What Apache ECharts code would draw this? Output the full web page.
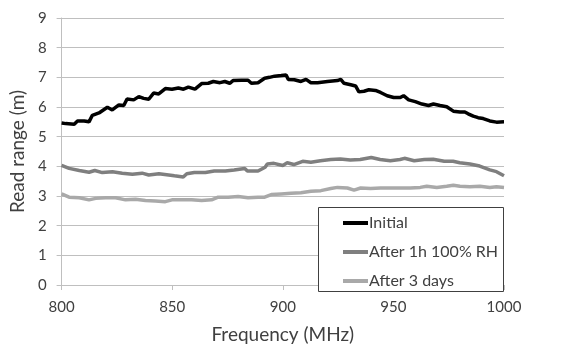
<!DOCTYPE html>
<html>
<head>
<meta charset="utf-8">
<script src="https://cdn.jsdelivr.net/npm/echarts@6/dist/echarts.min.js"></script>
<style>html,body{margin:0;padding:0;background:#fff}#c{width:562px;height:349px}</style>
</head>
<body>
<div id="c"></div>
<script>
var seriesNames = ['Initial', 'After 1h 100% RH', 'After 3 days'];
var xTicks = [800, 850, 900, 950, 1000];
var yTicks = [0, 1, 2, 3, 4, 5, 6, 7, 8, 9];

var initialFreq = [800, 801.9, 805.7, 807.2, 810.2, 812.4, 813.9, 816.9, 820.7, 822.9, 825.9, 828.1, 829.6, 832.6, 834.9, 837.1, 839.4, 841.6, 843.9, 846.9, 849.9, 852.8, 855.1, 857.3, 860.3, 863.3, 866.3, 868.6, 871.6, 873.8, 876.0, 877.5, 881.3, 884.3, 885.8, 888.8, 891.8, 894.0, 896.3, 899.3, 901.5, 902.5, 905.2, 908.2, 910.5, 912.7, 915.7, 920.2, 924.7, 926.2, 927.7, 930.7, 932.9, 934.4, 936.7, 938.9, 941.9, 944.2, 947.2, 950.1, 953.1, 954.6, 956.9, 959.9, 962.9, 965.9, 968.1, 971.1, 974.1, 977.1, 980.1, 982.3, 983.8, 986.1, 988.3, 990.6, 993.6, 996.6, 1000];
var initialVal = [5.46, 5.44, 5.42, 5.53, 5.53, 5.50, 5.72, 5.80, 5.99, 5.90, 6.07, 6.05, 6.27, 6.24, 6.35, 6.29, 6.26, 6.47, 6.44, 6.62, 6.60, 6.64, 6.60, 6.67, 6.60, 6.79, 6.80, 6.86, 6.82, 6.86, 6.80, 6.89, 6.90, 6.90, 6.80, 6.82, 6.97, 7.00, 7.04, 7.06, 7.08, 6.93, 6.92, 6.86, 6.93, 6.82, 6.82, 6.86, 6.89, 6.93, 6.80, 6.75, 6.71, 6.51, 6.53, 6.58, 6.56, 6.49, 6.38, 6.32, 6.32, 6.38, 6.24, 6.18, 6.10, 6.05, 6.10, 6.05, 6.01, 5.86, 5.83, 5.83, 5.77, 5.69, 5.64, 5.61, 5.53, 5.49, 5.50];

var humidFreq = [800, 803.4, 808, 812.4, 815, 818.4, 823, 827.4, 832, 836.4, 839.4, 844, 848.4, 851, 855, 856.6, 860, 865, 869, 874, 878, 882.8, 884, 888.8, 892, 893, 896, 900, 902, 905, 909, 912.7, 917, 921.7, 926, 930.5, 935, 940, 944, 948.6, 953, 955, 959.4, 964, 968, 973, 977, 980, 984.6, 989, 993.6, 996.6, 1000];
var humidVal = [4.03, 3.93, 3.86, 3.80, 3.86, 3.79, 3.82, 3.77, 3.73, 3.77, 3.71, 3.75, 3.71, 3.68, 3.64, 3.75, 3.79, 3.79, 3.84, 3.84, 3.88, 3.93, 3.84, 3.84, 3.97, 4.08, 4.10, 4.03, 4.12, 4.06, 4.17, 4.14, 4.19, 4.23, 4.25, 4.21, 4.23, 4.30, 4.23, 4.19, 4.23, 4.27, 4.19, 4.23, 4.24, 4.17, 4.17, 4.12, 4.08, 4.01, 3.88, 3.82, 3.68];

var daysFreq = [800, 803.4, 808, 812.4, 815.4, 819.9, 824.4, 828.9, 833.4, 837.9, 842.4, 846.9, 849.9, 854.4, 858.8, 863.3, 867.8, 870.8, 875.3, 879.8, 884.3, 888.8, 891.8, 894.8, 899.3, 903.7, 908.2, 912.7, 917.2, 921.7, 924.7, 929.2, 932.2, 935.2, 939.7, 944.2, 948.6, 953.1, 957.6, 962.1, 965.1, 969.6, 974.1, 977.1, 980.1, 984.6, 989.1, 993.6, 996.6, 1000];
var daysVal = [3.07, 2.96, 2.94, 2.87, 2.92, 2.94, 2.94, 2.87, 2.89, 2.85, 2.83, 2.81, 2.87, 2.87, 2.87, 2.85, 2.87, 2.96, 2.96, 2.98, 2.94, 2.96, 2.96, 3.05, 3.07, 3.09, 3.11, 3.16, 3.18, 3.25, 3.29, 3.27, 3.20, 3.27, 3.25, 3.27, 3.27, 3.27, 3.27, 3.29, 3.33, 3.29, 3.33, 3.36, 3.33, 3.31, 3.33, 3.29, 3.31, 3.29];

function pairs(xs, ys) { return xs.map(function (x, i) { return [x, ys[i]]; }); }

var FONT = 'Lato, "Open Sans", sans-serif';
var chart = echarts.init(document.getElementById('c'), null, { renderer: 'canvas' });
chart.setOption({
  animation: false,
  backgroundColor: '#ffffff',
  grid: { left: 59, right: 58, top: 18, bottom: 58, containLabel: false },
  xAxis: {
    type: 'value', min: xTicks[0], max: xTicks[xTicks.length - 1], interval: 50,
    name: 'Frequency (MHz)', nameLocation: 'middle', nameGap: 40,
    nameTextStyle: { fontFamily: FONT, fontSize: 19, color: '#404040' },
    axisLine: { show: true, lineStyle: { color: '#bfbfbf', width: 1 } },
    axisTick: { show: true, length: 5, lineStyle: { color: '#bfbfbf' } },
    axisLabel: { fontFamily: FONT, fontSize: 15, color: '#404040', margin: 15,
      formatter: function (v) { return String(v); } },
    splitLine: { show: false }
  },
  yAxis: {
    type: 'value', min: yTicks[0], max: yTicks[yTicks.length - 1], interval: 1,
    name: 'Read range (m)', nameLocation: 'middle', nameGap: 30,
    nameTextStyle: { fontFamily: FONT, fontSize: 19, color: '#404040' },
    axisLine: { show: true, lineStyle: { color: '#bfbfbf', width: 1 } },
    axisTick: { show: true, length: 5, lineStyle: { color: '#bfbfbf' } },
    axisLabel: { fontFamily: FONT, fontSize: 15, color: '#404040', margin: 15 },
    splitLine: { show: true, lineStyle: { color: '#bfbfbf', width: 1 } }
  },
  graphic: [{
    type: 'rect', left: 318, top: 207, z: 100,
    shape: { width: 185, height: 84 },
    style: { fill: '#ffffff', stroke: '#404040', lineWidth: 1 }
  }],
  legend: {
    z: 200,
    orient: 'vertical', left: 338, top: 210,
    itemWidth: 25, itemHeight: 4, itemGap: 13,
    icon: 'rect',
    textStyle: { fontFamily: FONT, fontSize: 16, color: '#404040', padding: [0, 0, 0, -4] },
    data: seriesNames
  },
  series: [
    { name: seriesNames[0], type: 'line', data: pairs(initialFreq, initialVal), showSymbol: false, symbol: 'none',
      lineStyle: { color: '#000000', width: 3.5 }, itemStyle: { color: '#000000' }, z: 5 },
    { name: seriesNames[1], type: 'line', data: pairs(humidFreq, humidVal), showSymbol: false, symbol: 'none',
      lineStyle: { color: '#7f7f7f', width: 3.5 }, itemStyle: { color: '#7f7f7f' }, z: 4 },
    { name: seriesNames[2], type: 'line', data: pairs(daysFreq, daysVal), showSymbol: false, symbol: 'none',
      lineStyle: { color: '#a9a9a9', width: 3.5 }, itemStyle: { color: '#a9a9a9' }, z: 3 }
  ]
});
</script>
</body>
</html>
